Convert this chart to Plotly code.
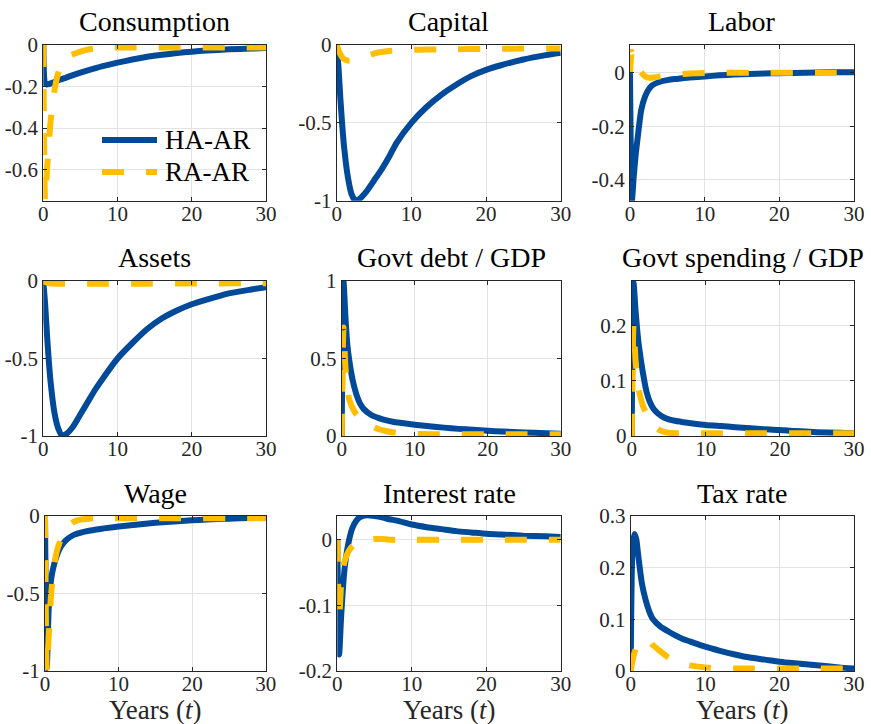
import plotly.graph_objects as go

# ---------------- data ----------------
T = [0, 0.25, 0.5, 0.75, 1, 1.5, 2, 2.5, 3, 4, 5, 6, 7, 8, 10, 12, 14, 16, 18, 20, 22, 25, 28, 30]

cons_ha = [0, -0.185, -0.19, -0.188, -0.185, -0.178, -0.17, -0.164, -0.158, -0.145, -0.133, -0.122,
           -0.112, -0.102, -0.085, -0.07, -0.057, -0.047, -0.039, -0.032, -0.027, -0.021, -0.017, -0.015]
cons_ra = [0, -0.75, -0.6, -0.47, -0.36, -0.22, -0.135, -0.09, -0.062, -0.045, -0.032, -0.022,
           -0.017, -0.014, -0.012, -0.012, -0.012, -0.012, -0.012, -0.012, -0.012, -0.012, -0.012, -0.012]

cap_ha = [0, -0.15, -0.35, -0.52, -0.66, -0.85, -0.96, -1.0, -0.99, -0.94, -0.87, -0.8,
          -0.72, -0.63, -0.5, -0.4, -0.32, -0.255, -0.2, -0.16, -0.13, -0.093, -0.065, -0.05]
cap_ra = [0, -0.035, -0.06, -0.08, -0.092, -0.1, -0.1, -0.095, -0.088, -0.072, -0.055, -0.045,
          -0.038, -0.034, -0.031, -0.029, -0.028, -0.027, -0.026, -0.025, -0.024, -0.023, -0.022, -0.022]

lab_ha = [0, -0.48, -0.39, -0.31, -0.25, -0.14, -0.09, -0.062, -0.046, -0.033, -0.027, -0.023,
          -0.02, -0.017, -0.013, -0.009, -0.006, -0.004, -0.002, -0.001, 0.0, 0.002, 0.003, 0.003]
lab_ra = [0, 0.08, 0.06, 0.04, 0.022, 0.002, -0.012, -0.018, -0.018, -0.013, -0.009, -0.006,
          -0.004, -0.002, 0.0, 0.0, 0.001, 0.001, 0.001, 0.001, 0.001, 0.001, 0.001, 0.001]

asset_ha = [0, -0.15, -0.35, -0.52, -0.66, -0.85, -0.95, -0.995, -0.99, -0.94, -0.86, -0.78,
            -0.7, -0.63, -0.5, -0.4, -0.31, -0.24, -0.19, -0.15, -0.12, -0.08, -0.055, -0.04]
asset_ra = [0, -0.006, -0.01, -0.013, -0.015, -0.017, -0.018, -0.018, -0.018, -0.018, -0.018, -0.018,
            -0.018, -0.018, -0.017, -0.017, -0.017, -0.016, -0.016, -0.016, -0.016, -0.015, -0.015, -0.015]

debt_ha = [0, 1.0, 0.78, 0.6, 0.5, 0.36, 0.27, 0.21, 0.175, 0.137, 0.117, 0.102,
           0.092, 0.085, 0.073, 0.063, 0.054, 0.046, 0.04, 0.034, 0.029, 0.023, 0.018, 0.015]
debt_ra = [0, 0.7, 0.45, 0.32, 0.24, 0.18, 0.14, 0.115, 0.095, 0.065, 0.045, 0.032,
           0.024, 0.019, 0.014, 0.012, 0.012, 0.012, 0.012, 0.012, 0.012, 0.012, 0.012, 0.012]

spend_ha = [0, 0.277, 0.23, 0.19, 0.16, 0.115, 0.08, 0.06, 0.048, 0.036, 0.03, 0.027,
            0.025, 0.023, 0.02, 0.018, 0.016, 0.014, 0.012, 0.011, 0.009, 0.007, 0.006, 0.005]
spend_ra = [0, 0.2, 0.14, 0.1, 0.08, 0.055, 0.04, 0.028, 0.018, 0.009, 0.006, 0.005,
            0.005, 0.005, 0.005, 0.005, 0.005, 0.005, 0.005, 0.005, 0.005, 0.005, 0.005, 0.005]

wage_ha = [0, -0.98, -0.6, -0.44, -0.36, -0.27, -0.21, -0.175, -0.15, -0.12, -0.105, -0.095,
           -0.087, -0.08, -0.068, -0.058, -0.048, -0.04, -0.034, -0.028, -0.023, -0.017, -0.013, -0.011]
wage_ra = [0, -1.0, -0.78, -0.56, -0.42, -0.25, -0.17, -0.11, -0.07, -0.035, -0.022, -0.017,
           -0.015, -0.015, -0.015, -0.015, -0.015, -0.015, -0.015, -0.015, -0.015, -0.015, -0.015, -0.015]

int_ha = [0, -0.175, -0.12, -0.075, -0.042, -0.005, 0.017, 0.028, 0.034, 0.037, 0.036, 0.034,
          0.031, 0.029, 0.023, 0.019, 0.016, 0.013, 0.011, 0.009, 0.008, 0.006, 0.005, 0.004]
int_ra = [0, -0.12, -0.07, -0.045, -0.032, -0.018, -0.01, -0.005, -0.003, 0.0, 0.001, 0.001,
          0.0, 0.0, 0.0, 0.0, 0.0, 0.0, 0.0, 0.0, 0.0, 0.0, 0.0, 0.0]

tax_ha = [0, 0.24, 0.265, 0.255, 0.225, 0.17, 0.138, 0.115, 0.1, 0.086, 0.077, 0.069,
          0.062, 0.057, 0.047, 0.039, 0.032, 0.026, 0.022, 0.018, 0.015, 0.011, 0.007, 0.005]
tax_ra = [0, 0.02, 0.035, 0.045, 0.052, 0.058, 0.06, 0.058, 0.05, 0.038, 0.027, 0.02,
          0.015, 0.011, 0.007, 0.005, 0.005, 0.005, 0.005, 0.005, 0.005, 0.005, 0.005, 0.005]

titles = ["Consumption", "Capital", "Labor", "Assets", "Govt debt / GDP",
          "Govt spending / GDP", "Wage", "Interest rate", "Tax rate"]
series_names = ["HA-AR", "RA-AR"]
x_title = "Years (<i>t</i>)"

x_ticks = [0, 10, 20, 30]
x_ticktext = ["0", "10", "20", "30"]

y_tickvals = [[-0.6, -0.4, -0.2, 0], [-1, -0.5, 0], [-0.4, -0.2, 0],
              [-1, -0.5, 0], [0, 0.5, 1], [0, 0.1, 0.2],
              [-1, -0.5, 0], [-0.2, -0.1, 0], [0, 0.1, 0.2, 0.3]]
y_ticktext = [["-0.6", "-0.4", "-0.2", "0"], ["-1", "-0.5", "0"], ["-0.4", "-0.2", "0"],
              ["-1", "-0.5", "0"], ["0", "0.5", "1"], ["0", "0.1", "0.2"],
              ["-1", "-0.5", "0"], ["-0.2", "-0.1", "0"], ["0", "0.1", "0.2", "0.3"]]
y_ranges = [[-0.75, 0], [-1, 0], [-0.48, 0.105],
            [-1, 0], [0, 1], [0, 0.28],
            [-1, 0], [-0.2, 0.036], [0, 0.3]]

ha_series = [cons_ha, cap_ha, lab_ha, asset_ha, debt_ha, spend_ha, wage_ha, int_ha, tax_ha]
ra_series = [cons_ra, cap_ra, lab_ra, asset_ra, debt_ra, spend_ra, wage_ra, int_ra, tax_ra]

# ---------------- layout / style ----------------
W, H = 871, 724
BLUE = "#004A99"
YELLOW = "#FFBF00"
FONT = "Liberation Serif, Times New Roman, DejaVu Serif, serif"
INK = "#262626"

# panel boxes in pixels: (left, right, top, bottom)
boxes = [(43.3, 266, 45, 200.7), (336.7, 560.7, 45, 200.7), (630, 854, 45, 200.7),
         (43.3, 266, 281, 436), (341.7, 560.7, 281, 436), (631.7, 854, 281, 436),
         (45, 265.7, 516, 671), (337.3, 560.7, 516, 671), (630.7, 854, 516, 671)]

fig = go.Figure()
annotations = []
shapes = []

for i in range(9):
    ax = "" if i == 0 else str(i + 1)
    l, r, t, b = boxes[i]
    fig.add_trace(go.Scatter(x=T, y=ha_series[i], mode="lines", name=series_names[0],
                             line=dict(color=BLUE, width=6, shape="spline", smoothing=0.6),
                             xaxis="x" + ax, yaxis="y" + ax, showlegend=False))
    fig.add_trace(go.Scatter(x=T, y=ra_series[i], mode="lines", name=series_names[1],
                             line=dict(color=YELLOW, width=6, dash="22px,22px",
                                       shape="spline", smoothing=0.6),
                             xaxis="x" + ax, yaxis="y" + ax, showlegend=False))
    common = dict(showline=True, linecolor=INK, linewidth=1, mirror="ticks",
                  ticks="inside", ticklen=4, tickcolor=INK, showgrid=True,
                  gridcolor="#E3E3E3", gridwidth=1, zeroline=False, automargin=False,
                  tickfont=dict(family=FONT, size=21, color=INK))
    xa = dict(common, domain=[l / W, r / W], range=[0, 30], tickvals=x_ticks,
              ticktext=x_ticktext, anchor="y" + ax, ticklabelstandoff=-6)
    ya = dict(common, domain=[1 - b / H, 1 - t / H], range=y_ranges[i],
              tickvals=y_tickvals[i], ticktext=y_ticktext[i], anchor="x" + ax)
    fig.update_layout(**{"xaxis" + ax: xa, "yaxis" + ax: ya})
    annotations.append(dict(text=titles[i], x=(l + r) / 2 / W, y=1 - (t - 23) / H,
                            xref="paper", yref="paper", xanchor="center", yanchor="middle",
                            showarrow=False, font=dict(family=FONT, size=28, color="black")))
    if i >= 6:
        annotations.append(dict(text=x_title, x=(l + r) / 2 / W, y=1 - 710 / H,
                                xref="paper", yref="paper", xanchor="center", yanchor="middle",
                                showarrow=False, font=dict(family=FONT, size=27, color=INK)))

# legend drawn inside the Consumption panel
leg_items = [(series_names[0], BLUE, "solid", 140), (series_names[1], YELLOW, "22px,22px", 172)]
for name, col, dash, ypx in leg_items:
    shapes.append(dict(type="line", xref="paper", yref="paper",
                       x0=102 / W, x1=157 / W, y0=1 - ypx / H, y1=1 - ypx / H,
                       line=dict(color=col, width=6, dash=dash)))
    annotations.append(dict(text=name, x=163 / W, y=1 - ypx / H, xref="paper", yref="paper",
                            xanchor="left", yanchor="middle", showarrow=False,
                            font=dict(family=FONT, size=27, color="black")))

fig.update_layout(width=W, height=H, margin=dict(l=0, r=0, t=0, b=0, autoexpand=False),
                  paper_bgcolor="white", plot_bgcolor="white",
                  annotations=annotations, shapes=shapes, showlegend=False)

fig.write_html("out.html", config={"displayModeBar": False},
               post_script="document.body.style.margin='0px'; document.body.style.overflow='hidden';")
